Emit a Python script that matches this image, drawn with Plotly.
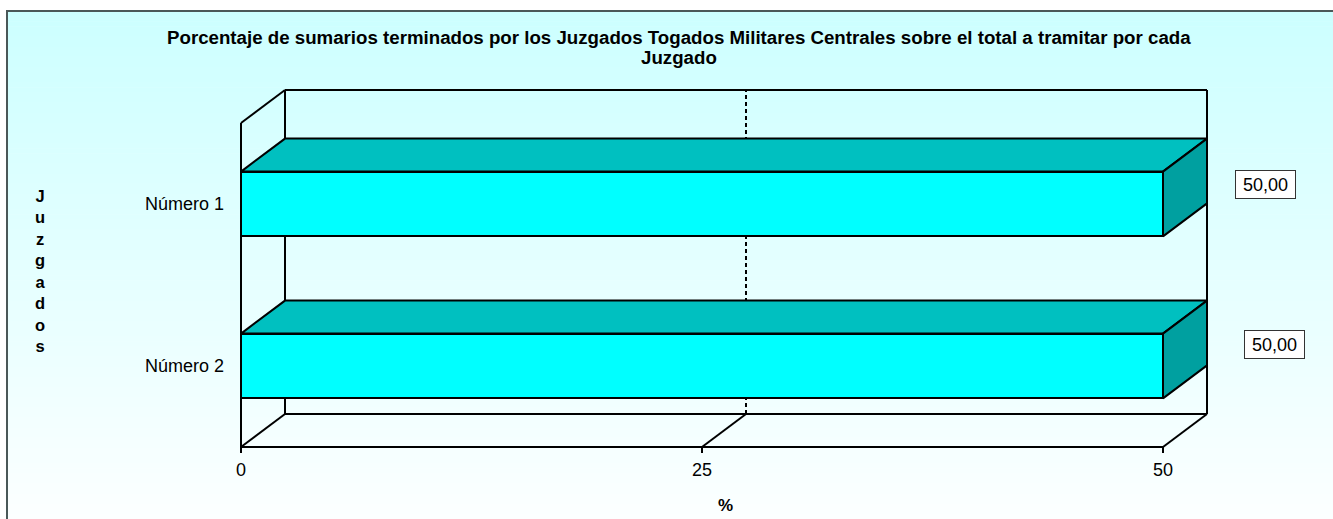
import plotly.graph_objects as go

# ---------------- data ----------------
categories = ["Número 1", "Número 2"]
values = [50.0, 50.0]
x_tick_vals = [0, 25, 50]
x_tick_text = ["0", "25", "50"]
title_lines = ["Porcentaje de sumarios terminados por los Juzgados Togados Militares "
               "Centrales sobre el total a tramitar por cada", "Juzgado"]
x_title = "%"
y_title = "Juzgados"

# ---------------- layout geometry (pixels) ----------------
W, H = 1333, 519
L, R, T, B = 230, 1220, 85, 453          # plot area
X0_PX, XMAX_PX = 241, 1163               # front plane: x=0 and x=max
FRONT_TOP_PX, FRONT_BOT_PX = 123, 447    # front plane top / bottom
DEPTH_DX_PX, DEPTH_DY_PX = 44, 33        # 3-D depth offset
BAR_HALF = 0.2                           # half bar thickness (category units)
LABEL_OFF_PX = [(102, -20), (111, -22)]  # data label offsets from bar end (px)
TITLE_X, TITLE_Y = 679, [37, 58]

FONT = "Liberation Sans, Arial, sans-serif"
FRONT_C, TOP_C, SIDE_C = "#00FFFF", "#00C0C0", "#00A0A0"
LW = 2

xmax = x_tick_vals[-1]
n = len(categories)
sx = (XMAX_PX - X0_PX) / xmax
sy = (FRONT_BOT_PX - FRONT_TOP_PX) / n
dx = DEPTH_DX_PX / sx
dy = DEPTH_DY_PX / sy
ylo, yhi = -0.5, n - 0.5
xr = [(L - X0_PX) / sx, (R - X0_PX) / sx]
yr = [ylo - (B - FRONT_BOT_PX) / sy, yhi + (FRONT_TOP_PX - T) / sy]
ypos = [n - 1 - i for i in range(n)]


def px_x(p):
    return (p - L) / (R - L)


def px_y(p):
    return (B - p) / (B - T)


def data_to_px(x, y):
    return X0_PX + x * sx, FRONT_BOT_PX - (y - ylo) * sy


shapes = []
# background gradient
NB = 100
top_y, bot_y = 11, H
for k in range(NB):
    y0 = top_y + (bot_y - top_y) * k / NB
    y1 = top_y + (bot_y - top_y) * (k + 1) / NB + 0.6
    r = round(204 + (252 - 204) * (k + 0.5) / NB)
    shapes.append(dict(type="rect", xref="paper", yref="paper", layer="below",
                       x0=px_x(7), x1=px_x(W + 5), y0=px_y(y0), y1=px_y(min(y1, H + 2)),
                       fillcolor=f"rgb({r},255,255)", line=dict(width=0)))
# outer frame
shapes.append(dict(type="line", xref="paper", yref="paper", layer="below",
                   x0=px_x(6), x1=px_x(W + 5), y0=px_y(11), y1=px_y(11),
                   line=dict(color="#4a5858", width=2)))
shapes.append(dict(type="line", xref="paper", yref="paper", layer="below",
                   x0=px_x(7), x1=px_x(7), y0=px_y(10), y1=px_y(H + 5),
                   line=dict(color="#4a5858", width=2)))


def seg(x0, y0, x1, y1, dash="solid"):
    shapes.append(dict(type="line", xref="x", yref="y", layer="below",
                       x0=x0, y0=y0, x1=x1, y1=y1,
                       line=dict(color="black", width=LW, dash=dash)))


# back wall gridlines (interior ticks)
for t in x_tick_vals[1:-1]:
    seg(t + dx, ylo + dy, t + dx, yhi + dy, dash="4px,3px")
# back wall frame
seg(dx, ylo + dy, dx, yhi + dy)
seg(dx, yhi + dy, xmax + dx, yhi + dy)
seg(xmax + dx, ylo + dy, xmax + dx, yhi + dy)
seg(dx, ylo + dy, xmax + dx, ylo + dy)
# left wall
seg(0, ylo, 0, yhi)
seg(0, yhi, dx, yhi + dy)
# floor
seg(0, ylo, xmax, ylo)
for t in x_tick_vals:
    seg(t, ylo, t + dx, ylo + dy)
    seg(t, ylo, t, ylo - 6 / sy)  # tick mark

fig = go.Figure()
fig.add_trace(go.Bar(orientation="h", x=values, y=ypos, base=0,
                     width=2 * BAR_HALF,
                     marker=dict(color=FRONT_C, line=dict(color="black", width=LW)),
                     hoverinfo="skip", showlegend=False))
for v, y in zip(values, ypos):
    fig.add_trace(go.Scatter(
        x=[0, v, v + dx, dx, 0],
        y=[y + BAR_HALF, y + BAR_HALF, y + BAR_HALF + dy, y + BAR_HALF + dy, y + BAR_HALF],
        mode="lines", fill="toself", fillcolor=TOP_C,
        line=dict(color="black", width=LW), hoverinfo="skip", showlegend=False))
    fig.add_trace(go.Scatter(
        x=[v, v + dx, v + dx, v, v],
        y=[y - BAR_HALF, y - BAR_HALF + dy, y + BAR_HALF + dy, y + BAR_HALF, y - BAR_HALF],
        mode="lines", fill="toself", fillcolor=SIDE_C,
        line=dict(color="black", width=LW), hoverinfo="skip", showlegend=False))

annotations = []
for (v, y), (ox, oy) in zip(zip(values, ypos), LABEL_OFF_PX):
    bx, by = data_to_px(v, y)
    annotations.append(dict(
        x=px_x(bx + ox), y=px_y(by + oy), xref="paper", yref="paper",
        xanchor="center", yanchor="middle", showarrow=False,
        text=f"{v:.2f}".replace(".", ","), font=dict(family=FONT, size=18, color="black"),
        bgcolor="white", bordercolor="#333333", borderwidth=1, borderpad=3,
        width=53, height=21))
# title lines
for line, ty in zip(title_lines, TITLE_Y):
    annotations.append(dict(
        x=px_x(TITLE_X), y=px_y(ty), xref="paper", yref="paper",
        xanchor="center", yanchor="middle", showarrow=False, text=line,
        font=dict(family=FONT, size=18.7, color="black", weight="bold")))
# stacked y-axis title
annotations.append(dict(
    x=px_x(40), y=px_y(271), xref="paper", yref="paper",
    xanchor="center", yanchor="middle", showarrow=False,
    text="<br>".join(list(y_title)), align="center",
    font=dict(family=FONT, size=16.5, color="black", weight="bold")))
# x-axis title
annotations.append(dict(
    x=px_x(725), y=px_y(505), xref="paper", yref="paper",
    xanchor="center", yanchor="middle", showarrow=False,
    text=x_title, font=dict(family=FONT, size=17, color="black", weight="bold")))

fig.update_layout(
    width=W, height=H,
    margin=dict(l=L, r=W - R, t=T, b=H - B, pad=0),
    paper_bgcolor="white", plot_bgcolor="rgba(0,0,0,0)",
    xaxis=dict(range=xr, tickvals=x_tick_vals, ticktext=x_tick_text, ticks="",
               showgrid=False, zeroline=False, showline=False,
               tickfont=dict(family=FONT, size=18, color="black"),
               ticklabelstandoff=4, fixedrange=True),
    yaxis=dict(range=yr, tickvals=ypos, ticktext=categories, ticks="",
               showgrid=False, zeroline=False, showline=False,
               tickfont=dict(family=FONT, size=18, color="black"),
               ticklabelstandoff=5, fixedrange=True),
    shapes=shapes, annotations=annotations, showlegend=False,
    bargap=0,
)

fig.write_html("out.html",
               config={"displayModeBar": False},
               post_script="document.body.style.margin='0';"
                           "document.body.style.overflow='hidden';")
